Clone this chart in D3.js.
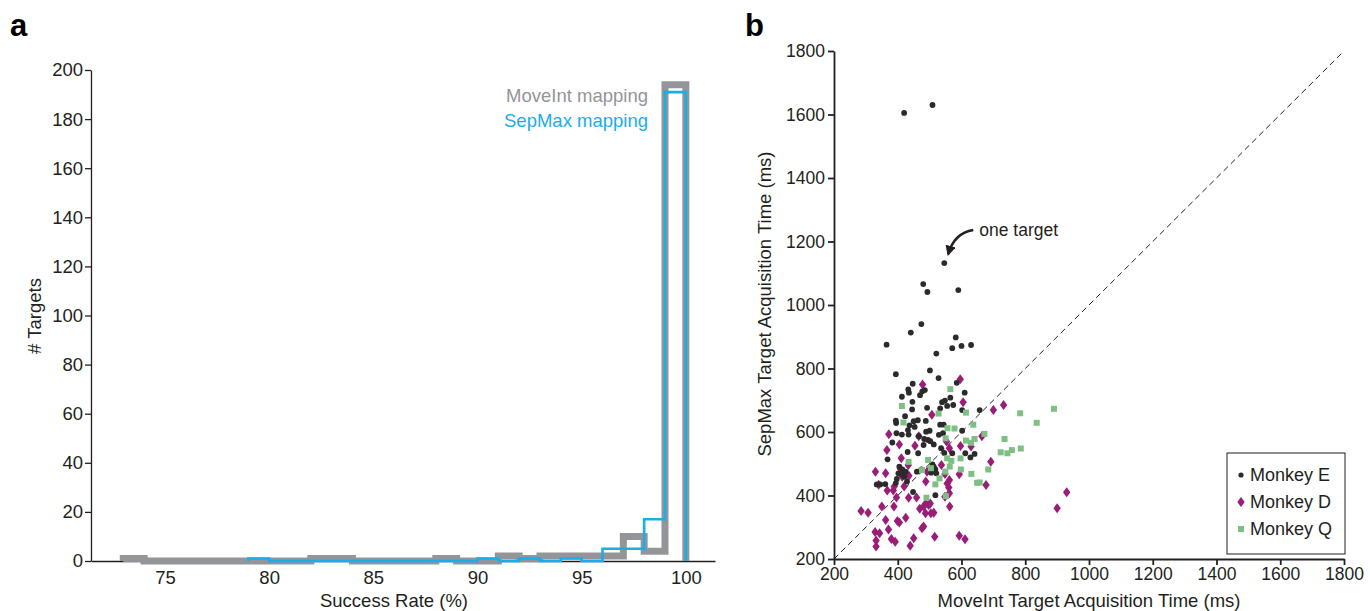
<!DOCTYPE html>
<html>
<head>
<meta charset="utf-8">
<script src="https://d3js.org/d3.v7.min.js"></script>
<style>
  body { margin: 0; background: #fff; }
  text { font-family: "Liberation Sans", Arial, sans-serif; fill: #231f20; }
</style>
</head>
<body>
<div id="chart"></div>
<script>
// ---- panel a: histogram of success rate, 1% bins ----
var grayStart = 73;
var grayCounts = [1, 0, 0, 0, 0, 0, 0, 0, 0, 1, 1, 0, 0, 0, 0, 1, 0, 0, 2, 1, 2, 2, 2, 2, 10, 4, 194];
var blueStart = 79;
var blueCounts = [1, 0, 0, 0, 0, 0, 0, 0, 0, 0, 0, 1, 0, 1, 0, 1, 0, 5, 5, 17, 191];
var histXTicks = [75, 80, 85, 90, 95, 100];
var histYTicks = d3.range(0, 201, 20);

// ---- panel b: acquisition times (ms), [MoveInt, SepMax] ----
var monkeyE = [[420,1605],[509,1630],[546,1132],[480,1066],[493,1041],[590,1047],[474,940],
  [365,875],[441,913],[582,898],[571,864],[600,871],[630,874],[521,847],[394,782],[501,794],
  [528,770],[585,755],[447,752],[477,728],[470,716],[433,734],[435,724],[413,711],[610,724],
  [485,732],[548,699],[539,694],[565,708],[555,682],[574,685],[533,674],[446,695],[492,676],
  [602,669],[657,669],[445,671],[423,650],[394,636],[395,628],[450,634],[463,637],[437,621],
  [453,616],[432,606],[413,592],[396,596],[434,592],[488,635],[500,604],[489,601],[533,623],
  [544,623],[466,587],[483,578],[495,575],[502,571],[529,591],[542,596],[602,604],[481,559],
  [513,561],[536,549],[571,533],[431,537],[464,533],[383,567],[368,514],[546,534],[612,533],
  [641,531],[628,520],[405,491],[414,482],[421,459],[397,452],[429,444],[413,467],[460,475],
  [474,482],[509,498],[513,491],[518,482],[505,472],[521,470],[334,435],[345,435],[361,436],
  [448,411],[518,401],[394,439],[402,470],[425,475]];
var monkeyD = [[478,750],[596,766],[605,694],[700,669],[732,685],[507,654],[372,593],[405,561],
  [454,557],[466,587],[366,543],[411,517],[433,496],[408,484],[553,570],[562,549],[597,556],
  [630,554],[664,587],[692,506],[677,433],[330,475],[362,470],[340,434],[367,416],[386,416],
  [414,459],[435,462],[396,394],[388,365],[434,393],[459,394],[488,444],[492,475],[537,496],
  [548,468],[555,438],[562,449],[560,425],[562,407],[548,396],[593,467],[563,365],[285,351],
  [307,346],[350,365],[362,323],[371,293],[399,320],[405,315],[425,330],[329,285],[343,281],
  [332,258],[332,239],[380,263],[392,254],[439,242],[450,265],[469,358],[476,297],[481,302],
  [488,375],[497,370],[504,344],[513,346],[487,344],[516,270],[593,273],[611,262],[930,410],
  [900,360],[502,375],[481,365],[389,428],[420,428]];
var monkeyQ = [[565,735],[413,682],[418,630],[528,658],[614,661],[784,659],[890,673],[836,629],
  [637,623],[556,612],[578,611],[550,580],[614,573],[630,566],[641,578],[672,594],[735,578],
  [723,536],[744,533],[758,543],[786,548],[434,506],[495,512],[555,517],[568,509],[597,517],
  [476,480],[504,486],[531,454],[549,475],[563,491],[598,482],[631,468],[684,482],[649,440],
  [657,441],[518,435],[551,398],[490,393]];
var timeTicks = d3.range(200, 1801, 200);
var legendNames = ["Monkey E", "Monkey D", "Monkey Q"];
var monkeyColors = ["#2b2b2b", "#9a1d78", "#7ec083"];
var annotatedPoint = [546, 1132];

var svg = d3.select("#chart").append("svg")
  .attr("width", 1370).attr("height", 611);

var axisColor = "#231f20";

function styleAxis(g, w, fs) {
  g.selectAll("path").attr("stroke", axisColor).attr("stroke-width", w);
  g.selectAll("line").attr("stroke", axisColor).attr("stroke-width", w);
  g.selectAll("text").attr("font-size", fs).attr("fill", axisColor)
    .attr("font-family", "Liberation Sans, Arial, sans-serif");
}

// ================= panel a =================
var xa = d3.scaleLinear().domain([71.45, 101.4]).range([91, 715]);
var ya = d3.scaleLinear().domain([0, 200]).range([561, 70]);

var gxa = svg.append("g").attr("transform", "translate(0," + ya(0) + ")")
  .call(d3.axisBottom(xa).tickValues(histXTicks).tickSize(0).tickPadding(10));
styleAxis(gxa, 1.3, "18.5px");
var gya = svg.append("g").attr("transform", "translate(" + xa.range()[0] + ",0)")
  .call(d3.axisLeft(ya).tickValues(histYTicks).tickSize(6).tickSizeOuter(0).tickPadding(2));
styleAxis(gya, 1.3, "18.5px");

function stairs(start, counts) {
  var pts = [[start, 0]];
  counts.forEach(function (c, i) {
    pts.push([start + i, c]);
    pts.push([start + i + 1, c]);
  });
  pts.push([start + counts.length, 0]);
  return pts;
}
var stepLine = d3.line().x(function (d) { return xa(d[0]); }).y(function (d) { return ya(d[1]); });

svg.append("path").attr("d", stepLine(stairs(grayStart, grayCounts)))
  .attr("fill", "none").attr("stroke", "#939598").attr("stroke-width", 7)
  .attr("stroke-linejoin", "miter");
svg.append("path").attr("d", stepLine(stairs(blueStart, blueCounts)))
  .attr("fill", "none").attr("stroke", "#1aaee8").attr("stroke-width", 2.6)
  .attr("stroke-linejoin", "miter");

svg.append("text").attr("x", 648).attr("y", 102).attr("text-anchor", "end")
  .attr("font-size", "18.5px").style("fill", "#939598").text("MoveInt mapping");
svg.append("text").attr("x", 648).attr("y", 127).attr("text-anchor", "end")
  .attr("font-size", "18.5px").style("fill", "#1aaee8").text("SepMax mapping");

svg.append("text").attr("x", 394).attr("y", 607).attr("text-anchor", "middle")
  .attr("font-size", "18.5px").text("Success Rate (%)");
svg.append("text").attr("transform", "translate(41,316) rotate(-90)")
  .attr("text-anchor", "middle").attr("font-size", "18.5px").text("# Targets");
svg.append("text").attr("x", 10).attr("y", 36).attr("font-size", "31px")
  .attr("font-weight", "bold").style("fill", "#000").text("a");

// ================= panel b =================
var xb = d3.scaleLinear().domain([200, 1800]).range([834, 1344]);
var yb = d3.scaleLinear().domain([200, 1800]).range([559, 51]);

svg.append("line")
  .attr("x1", xb(200)).attr("y1", yb(200)).attr("x2", xb(1800)).attr("y2", yb(1800))
  .attr("stroke", "#231f20").attr("stroke-width", 1).attr("stroke-dasharray", "6,4");

var gxb = svg.append("g").attr("transform", "translate(0," + yb(200) + ")")
  .call(d3.axisBottom(xb).tickValues(timeTicks).tickFormat(d3.format("d"))
    .tickSize(6).tickSizeOuter(0).tickPadding(3));
styleAxis(gxb, 1.8, "17.5px");
var gyb = svg.append("g").attr("transform", "translate(" + xb(200) + ",0)")
  .call(d3.axisLeft(yb).tickValues(timeTicks).tickFormat(d3.format("d"))
    .tickSize(6).tickSizeOuter(0).tickPadding(3));
styleAxis(gyb, 1.8, "17.5px");

var diamond = "M0,-5L3.7,0L0,5L-3.7,0Z";
var square = "M-3,-3H3V3H-3Z";

svg.append("g").selectAll("path").data(monkeyD).enter().append("path")
  .attr("d", diamond)
  .attr("transform", function (d) { return "translate(" + xb(d[0]) + "," + yb(d[1]) + ")"; })
  .attr("fill", monkeyColors[1]);
svg.append("g").selectAll("circle").data(monkeyE).enter().append("circle")
  .attr("cx", function (d) { return xb(d[0]); })
  .attr("cy", function (d) { return yb(d[1]); })
  .attr("r", 2.9).attr("fill", monkeyColors[0]);
svg.append("g").selectAll("path").data(monkeyQ).enter().append("path")
  .attr("d", square)
  .attr("transform", function (d) { return "translate(" + xb(d[0]) + "," + yb(d[1]) + ")"; })
  .attr("fill", monkeyColors[2]);

// annotation: "one target"
var ax = xb(annotatedPoint[0]), ay = yb(annotatedPoint[1]);
svg.append("defs").append("marker").attr("id", "head")
  .attr("viewBox", "0 0 10 10").attr("refX", 8).attr("refY", 5)
  .attr("markerWidth", 4).attr("markerHeight", 4).attr("orient", "auto")
  .append("path").attr("d", "M0,0L10,5L0,10Z").attr("fill", "#231f20");
svg.append("path")
  .attr("d", "M" + (ax + 29) + "," + (ay - 33) + "Q" + (ax + 10) + "," + (ay - 30) + " " + (ax + 4) + "," + (ay - 9))
  .attr("fill", "none").attr("stroke", "#231f20").attr("stroke-width", 2.6)
  .attr("marker-end", "url(#head)");
svg.append("text").attr("x", ax + 35).attr("y", ay - 27).attr("font-size", "17.5px").text("one target");

// legend
var lg = svg.append("g").attr("transform", "translate(1227,453)");
lg.append("rect").attr("width", 118).attr("height", 101)
  .attr("fill", "#fff").attr("stroke", "#231f20").attr("stroke-width", 1);
legendNames.forEach(function (name, i) {
  var cy = 22 + i * 27;
  var shape;
  if (i === 0) shape = lg.append("circle").attr("cx", 14).attr("cy", cy).attr("r", 2.6);
  else shape = lg.append("path").attr("d", i === 1 ? diamond : square)
    .attr("transform", "translate(14," + cy + ")");
  shape.attr("fill", monkeyColors[i]);
  lg.append("text").attr("x", 23).attr("y", cy + 6).attr("font-size", "18px").text(name);
});

svg.append("text").attr("x", 1089).attr("y", 607).attr("text-anchor", "middle")
  .attr("font-size", "18.5px").text("MoveInt Target Acquisition Time (ms)");
svg.append("text").attr("transform", "translate(771,304) rotate(-90)")
  .attr("text-anchor", "middle").attr("font-size", "18.5px").text("SepMax Target Acquisition Time (ms)");
svg.append("text").attr("x", 745).attr("y", 36).attr("font-size", "31px")
  .attr("font-weight", "bold").style("fill", "#000").text("b");
</script>
</body>
</html>
